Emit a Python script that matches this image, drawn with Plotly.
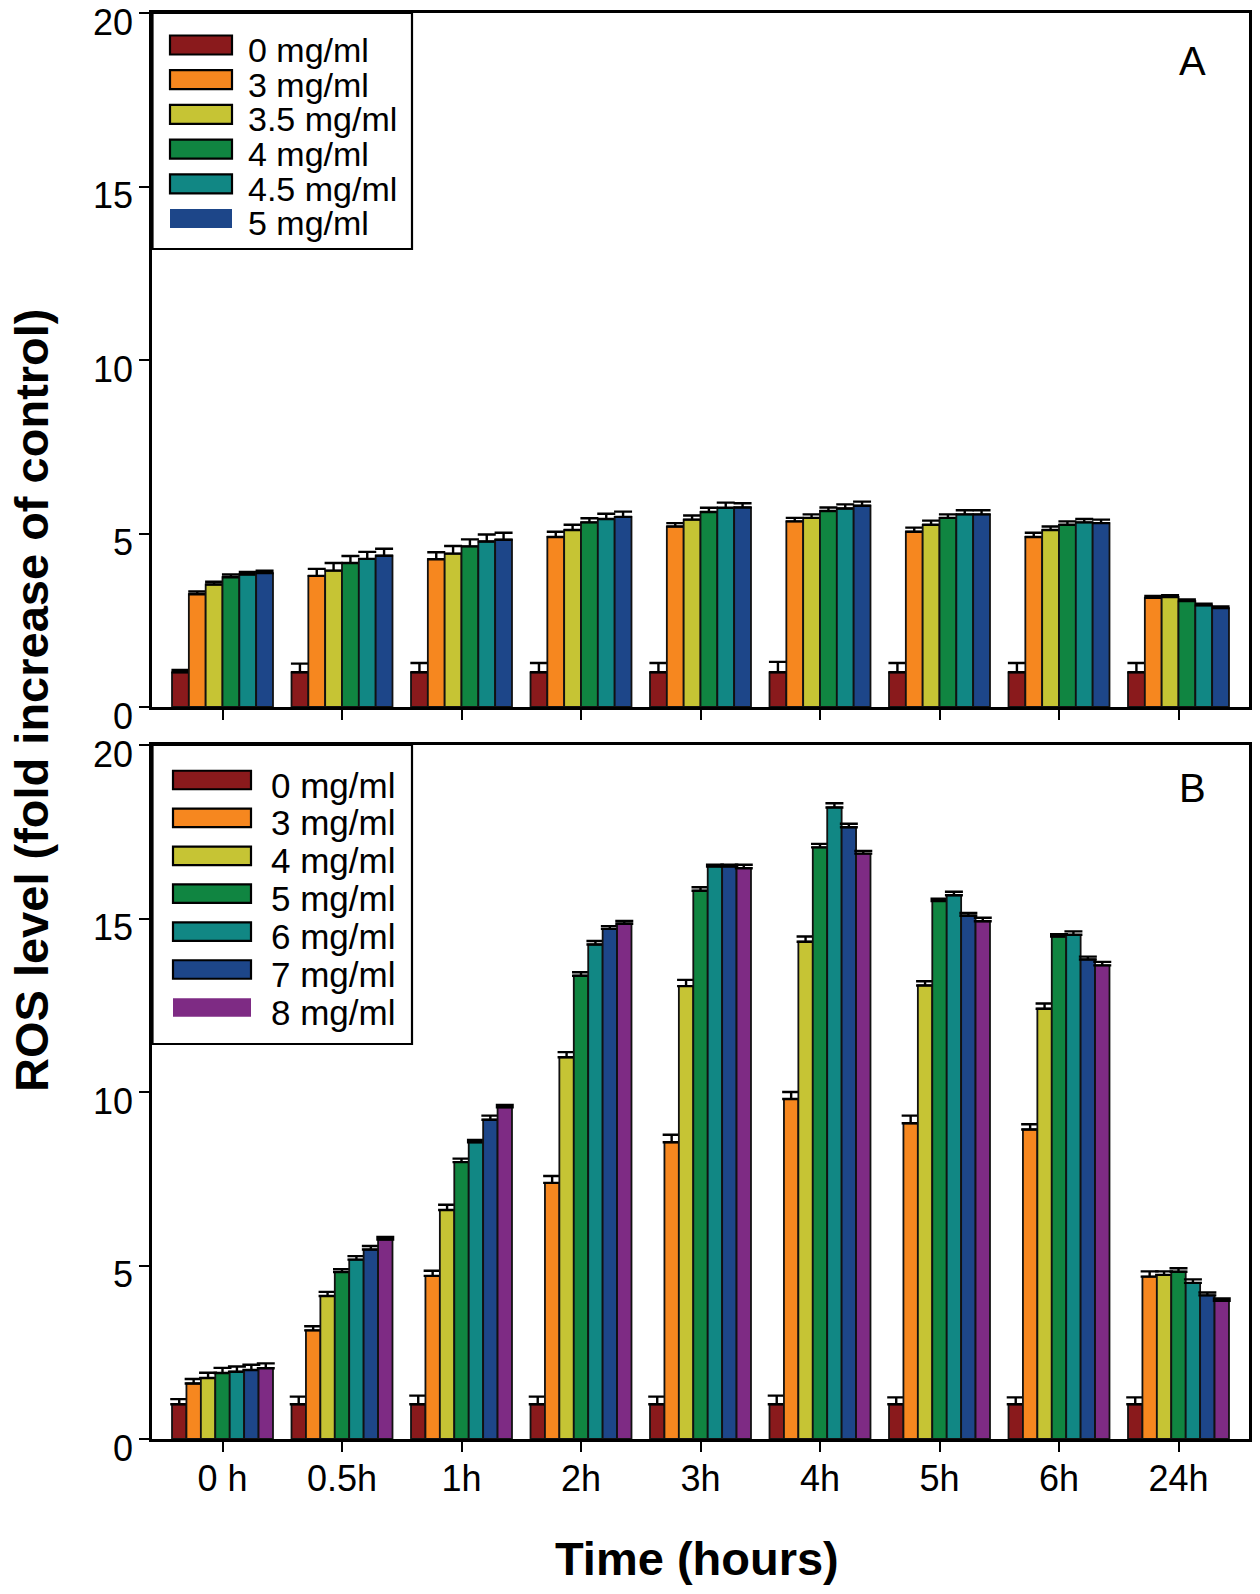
import plotly.graph_objects as go

# ---------------- data ----------------
times = ["0 h", "0.5h", "1h", "2h", "3h", "4h", "5h", "6h", "24h"]

a_labels = ["0 mg/ml", "3 mg/ml", "3.5 mg/ml", "4 mg/ml", "4.5 mg/ml", "5 mg/ml"]
a_colors = ["#8A1A1C", "#F6871F", "#C6C434", "#108541", "#118784", "#1D4689"]
a_0 = [1.0, 1.0, 1.0, 1.0, 1.0, 1.0, 1.0, 1.0, 1.0]
a_3 = [3.25, 3.78, 4.26, 4.90, 5.20, 5.35, 5.05, 4.90, 3.15]
a_35 = [3.53, 3.93, 4.42, 5.10, 5.40, 5.45, 5.25, 5.10, 3.17]
a_4 = [3.74, 4.15, 4.63, 5.32, 5.62, 5.65, 5.45, 5.25, 3.05]
a_45 = [3.82, 4.27, 4.77, 5.42, 5.74, 5.72, 5.55, 5.32, 2.93]
a_5 = [3.86, 4.36, 4.82, 5.48, 5.75, 5.80, 5.55, 5.30, 2.85]
a_err_0 = [0.07, 0.25, 0.27, 0.27, 0.27, 0.30, 0.27, 0.27, 0.27]
a_err_3 = [0.08, 0.20, 0.20, 0.15, 0.10, 0.10, 0.12, 0.12, 0.05]
a_err_35 = [0.08, 0.22, 0.22, 0.15, 0.12, 0.10, 0.12, 0.10, 0.05]
a_err_4 = [0.08, 0.20, 0.20, 0.12, 0.12, 0.10, 0.10, 0.10, 0.05]
a_err_45 = [0.07, 0.20, 0.20, 0.15, 0.15, 0.12, 0.12, 0.10, 0.05]
a_err_5 = [0.07, 0.20, 0.20, 0.15, 0.12, 0.12, 0.12, 0.10, 0.05]

b_labels = ["0 mg/ml", "3 mg/ml", "4 mg/ml", "5 mg/ml", "6 mg/ml", "7 mg/ml", "8 mg/ml"]
b_colors = ["#8A1A1C", "#F6871F", "#C6C434", "#108541", "#118784", "#1D4689", "#7E2B84"]
b_0 = [1.0, 1.0, 1.0, 1.0, 1.0, 1.0, 1.0, 1.0, 1.0]
b_3 = [1.60, 3.13, 4.70, 7.38, 8.55, 9.80, 9.10, 8.92, 4.68]
b_4 = [1.76, 4.12, 6.60, 11.00, 13.05, 14.33, 13.07, 12.40, 4.73]
b_5 = [1.90, 4.81, 7.98, 13.35, 15.80, 17.05, 15.50, 14.48, 4.82]
b_6 = [1.94, 5.17, 8.55, 14.25, 16.50, 18.20, 15.67, 14.53, 4.50]
b_7 = [1.99, 5.46, 9.20, 14.70, 16.50, 17.63, 15.08, 13.82, 4.14]
b_8 = [2.04, 5.75, 9.56, 14.85, 16.45, 16.87, 14.92, 13.65, 3.98]
b_err_0 = [0.15, 0.22, 0.25, 0.22, 0.22, 0.25, 0.20, 0.20, 0.20]
b_err_3 = [0.13, 0.12, 0.15, 0.20, 0.22, 0.20, 0.22, 0.15, 0.15]
b_err_4 = [0.15, 0.12, 0.15, 0.15, 0.18, 0.15, 0.12, 0.15, 0.10]
b_err_5 = [0.15, 0.08, 0.10, 0.10, 0.10, 0.10, 0.07, 0.07, 0.10]
b_err_6 = [0.15, 0.10, 0.07, 0.10, 0.05, 0.12, 0.10, 0.10, 0.10]
b_err_7 = [0.15, 0.10, 0.12, 0.08, 0.05, 0.10, 0.08, 0.08, 0.08]
b_err_8 = [0.14, 0.07, 0.07, 0.08, 0.10, 0.08, 0.10, 0.10, 0.07]

y_ticks = [0, 5, 10, 15, 20]

a_values = [a_0, a_3, a_35, a_4, a_45, a_5]
a_errors = [a_err_0, a_err_3, a_err_35, a_err_4, a_err_45, a_err_5]
b_values = [b_0, b_3, b_4, b_5, b_6, b_7, b_8]
b_errors = [b_err_0, b_err_3, b_err_4, b_err_5, b_err_6, b_err_7, b_err_8]

# ---------------- layout geometry (pixels) ----------------
# the page body adds an 8px margin, so the figure is 8px smaller and offset
OFF = 8
W, H = 1260 - OFF, 1594 - OFF
ML, MR, MT, MB = 152 - OFF, 11, 13 - OFF, 155
PW = W - ML - MR
PH = H - MT - MB


def px(x):
    """page x pixel -> paper coordinate"""
    return (x - OFF - ML) / PW


def py(y):
    """page y pixel -> paper coordinate"""
    return (H - MB - (y - OFF)) / PH


FONT = "Arial, Liberation Sans, Helvetica, sans-serif"

fig = go.Figure()


def add_bars(values, errors, labels, colors, xa, ya):
    for v, e, lab, col in zip(values, errors, labels, colors):
        fig.add_trace(go.Bar(
            x=times, y=v, name=lab, xaxis=xa, yaxis=ya,
            marker=dict(color=col, line=dict(color="#111111", width=1.8)),
            error_y=dict(type="data", array=e, arrayminus=[0] * len(e),
                         symmetric=False, color="#000000", thickness=2.4, width=9),
            showlegend=False,
        ))


add_bars(a_values, a_errors, a_labels, a_colors, "x", "y")
add_bars(b_values, b_errors, b_labels, b_colors, "x2", "y2")

xr = [-0.59, len(times) - 1 + 0.59]
common_x = dict(type="category", range=xr, showline=True, linecolor="black",
                linewidth=2.5, mirror=True, ticks="outside", ticklen=10,
                tickwidth=2, tickcolor="black", showgrid=False, zeroline=False,
                automargin=False, ticklabeloverflow="allow")
common_y = dict(range=[0, 20], tickvals=y_ticks, showline=True, linecolor="black",
                linewidth=2.5, mirror=True, ticks="outside", ticklen=10,
                tickwidth=2, tickcolor="black", showgrid=False, zeroline=False,
                tickfont=dict(family=FONT, size=36, color="black"),
                ticklabelshift=9, ticklabelstandoff=-1, automargin=False,
                ticklabeloverflow="allow")

fig.update_layout(
    width=W, height=H,
    margin=dict(l=ML, r=MR, t=MT, b=MB, autoexpand=False),
    paper_bgcolor="white", plot_bgcolor="white",
    barmode="group", bargap=0.155, bargroupgap=0,
    font=dict(family=FONT, color="black"),
    xaxis=dict(**common_x, anchor="y", showticklabels=False),
    yaxis=dict(**common_y, anchor="x", domain=[py(707), 1.0]),
    xaxis2=dict(**common_x, anchor="y2", showticklabels=True,
                tickfont=dict(family=FONT, size=36, color="black"),
                ticklabelstandoff=-4),
    yaxis2=dict(**common_y, anchor="x2", domain=[0.0, py(745)]),
)

shapes = []
annotations = []


def legend(box, sw_x0, sw_x1, y0, dy, sh, tx, fs, labels, colors):
    shapes.append(dict(type="rect", xref="paper", yref="paper",
                       x0=px(box[0]), x1=px(box[2]), y0=py(box[1]), y1=py(box[3]),
                       line=dict(color="black", width=2.2), fillcolor="white", layer="above"))
    n = len(labels)
    for i, (lab, col) in enumerate(zip(labels, colors)):
        cy = y0 + dy * i
        lw = 0 if i == n - 1 else 2.2
        shapes.append(dict(type="rect", xref="paper", yref="paper",
                           x0=px(sw_x0), x1=px(sw_x1), y0=py(cy - sh / 2), y1=py(cy + sh / 2),
                           line=dict(color="black", width=lw), fillcolor=col, layer="above"))
        annotations.append(dict(xref="paper", yref="paper", x=px(tx), y=py(cy + 5),
                                text=lab, showarrow=False, xanchor="left", yanchor="middle",
                                font=dict(family=FONT, size=fs, color="black")))


legend((152.5, 13, 412, 249), 170, 232, 45, 34.7, 19, 246, 34, a_labels, a_colors)
legend((152.5, 745, 412, 1044), 173, 251, 780, 37.9, 18.5, 269, 35, b_labels, b_colors)

annotations.append(dict(xref="paper", yref="paper", x=px(1192), y=py(61), text="A",
                        showarrow=False, xanchor="center", yanchor="middle",
                        font=dict(family=FONT, size=40, color="black")))
annotations.append(dict(xref="paper", yref="paper", x=px(1192), y=py(788), text="B",
                        showarrow=False, xanchor="center", yanchor="middle",
                        font=dict(family=FONT, size=40, color="black")))
annotations.append(dict(xref="paper", yref="paper", x=px(31), y=py(700),
                        text="<b>ROS level (fold increase of control)</b>", textangle=-90,
                        showarrow=False, xanchor="center", yanchor="middle",
                        font=dict(family=FONT, size=47, color="black")))
annotations.append(dict(xref="paper", yref="paper", x=px(697), y=py(1558),
                        text="<b>Time (hours)</b>",
                        showarrow=False, xanchor="center", yanchor="middle",
                        font=dict(family=FONT, size=47, color="black")))

fig.update_layout(shapes=shapes, annotations=annotations)

fig.write_html("out.html")
